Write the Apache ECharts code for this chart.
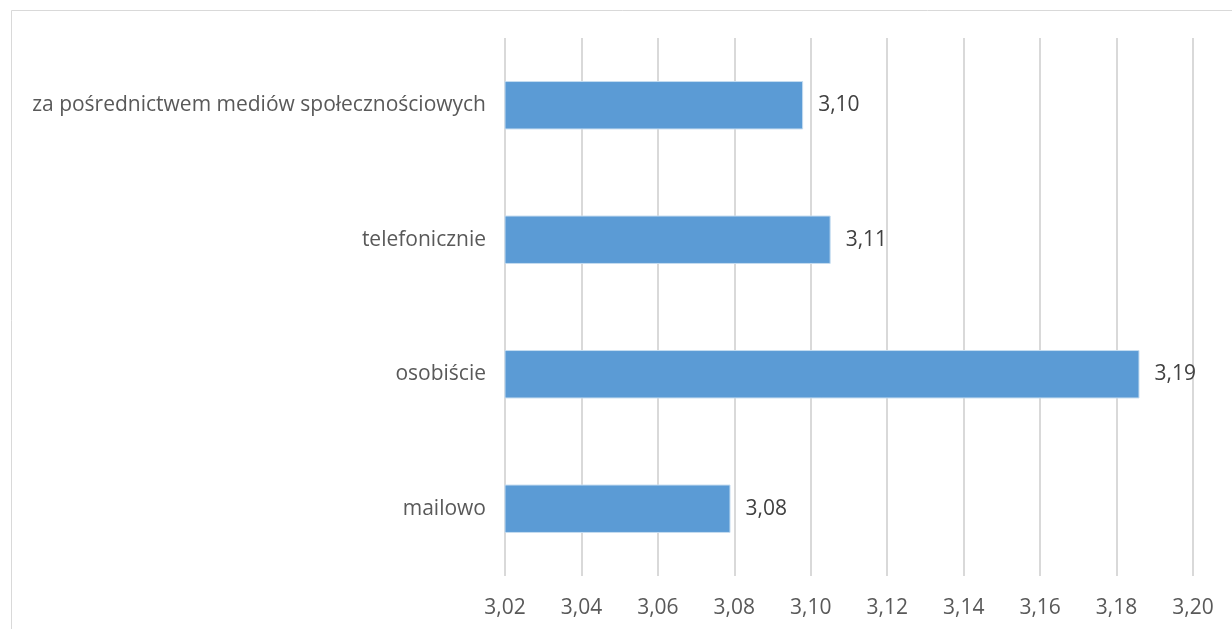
<!DOCTYPE html>
<html><head><meta charset="utf-8">
<script src="https://cdn.jsdelivr.net/npm/echarts@6/dist/echarts.min.js"></script>
<style>html,body{margin:0;padding:0;background:#fff}#c{width:1232px;height:629px}</style>
</head><body><div id="c"></div>
<script>
const categories = ['mailowo', 'osobiście', 'telefonicznie', 'za pośrednictwem mediów społecznościowych'];
const values = [3.079, 3.186, 3.1052, 3.098];
const xMin = 3.02, xMax = 3.20, xStep = 0.02;

const chart = echarts.init(document.getElementById('c'), null, {renderer: 'canvas'});
const fmt = v => Number(v).toFixed(2).replace('.', ',');
const FF = 'Open Sans';
chart.setOption({
  animation: false,
  backgroundColor: '#fff',
  textStyle: {fontFamily: FF},
  graphic: [{type: 'rect', left: 9, top: 8, shape: {width: 1250, height: 650}, style: {fill: 'none', stroke: '#d9d9d9', lineWidth: 1}, z: -1}],
  grid: {left: 505, right: 39, top: 38, bottom: 53, containLabel: false},
  xAxis: {
    type: 'value', min: xMin, max: xMax, interval: xStep,
    axisLine: {show: false}, axisTick: {show: false},
    splitLine: {lineStyle: {color: '#d9d9d9', width: 2}},
    axisLabel: {color: '#595959', fontSize: 21, margin: 22, formatter: v => fmt(v), fontFamily: FF}
  },
  yAxis: {
    type: 'category', data: categories,
    axisLine: {show: false}, axisTick: {show: false},
    axisLabel: {color: '#595959', fontSize: 21, margin: 19, fontFamily: FF}
  },
  series: [{
    type: 'bar', data: values, barWidth: '36%',
    itemStyle: {color: '#5b9bd5', borderColor: '#c5dcf0', borderWidth: 1},
    label: {show: true, position: 'right', distance: 15, color: '#404040', fontSize: 21, fontFamily: FF, formatter: p => fmt(p.value)}
  }]
});
</script></body></html>
